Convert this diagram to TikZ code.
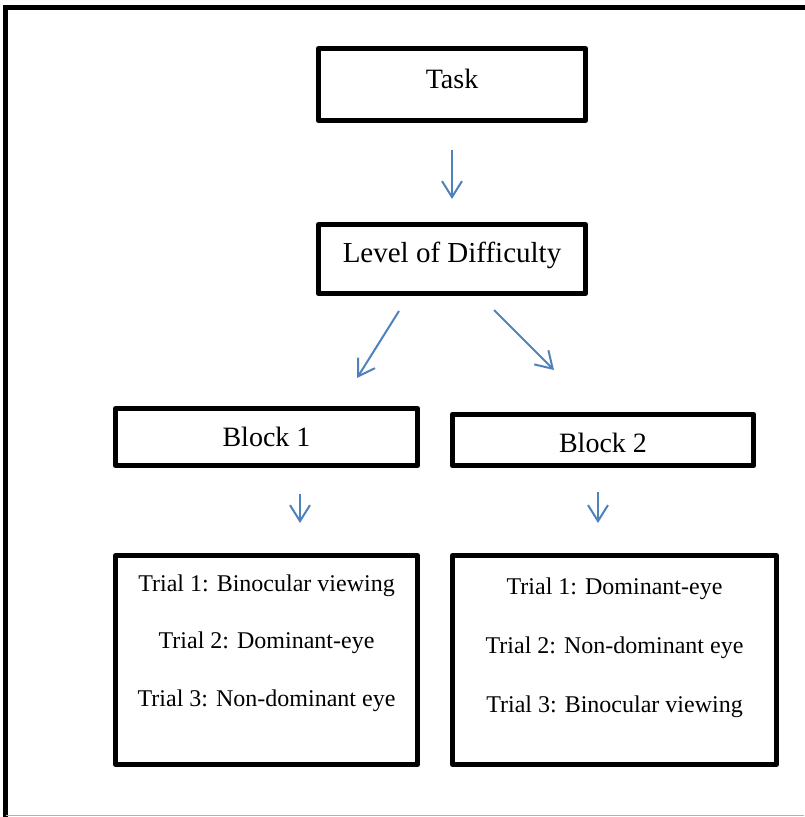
\documentclass[tikz,border=0pt]{standalone}
\usepackage{fontspec}
\setmainfont{Liberation Serif}
\usetikzlibrary{arrows.meta}
\definecolor{arrowblue}{RGB}{79,129,189}

\begin{document}
\begin{tikzpicture}[
    x=1pt, y=-1pt,
    >={Straight Barb[length=16pt,width=20pt]},
    box/.style={draw, line width=5pt, line join=round, inner sep=0pt},
    bigtext/.style={font=\fontsize{28}{33.6}\selectfont},
    trialtext/.style={font=\fontsize{24}{28.8}\selectfont},
    arr/.style={->, arrowblue, line width=2pt}
]
    % Frame
    \useasboundingbox (0,0) rectangle (804,817);
    \draw[line width=5pt] (5.5,817) -- (5.5,7) -- (812,7);
    \draw[gray!60, line width=1pt] (5.5,815.5) -- (804,815.5);

    % Task and level
    \node[box, bigtext, minimum width=267pt, minimum height=72pt, text height=20pt, text depth=12pt] (task) at (452,84.5) {Task};
    \node[box, font=\fontsize{29}{34.8}\selectfont\addfontfeature{Ligatures=CommonOff}, minimum width=267pt, minimum height=69pt, text height=20pt, text depth=14pt] (level) at (452,259) {Level of Difficulty};

    % Blocks
    \node[box, bigtext, minimum width=302pt, minimum height=57pt] (block1) at (266.5,437) {Block 1};
    \node[box, bigtext, minimum width=301pt, minimum height=51.5pt, text height=25pt] (block2) at (603,440) {Block 2};

    % Trials
    \node[box, trialtext, minimum width=302pt, minimum height=209pt, text depth=100pt] (trial1) at (266.5,660)
        {\begin{tabular}{@{}c@{}}Trial 1: Binocular viewing\\[28.7pt] Trial 2: Dominant-eye\\[28.7pt] Trial 3: Non-dominant eye\end{tabular}};
    \node[box, trialtext, minimum width=324pt, minimum height=209pt, text depth=92pt] (trial2) at (614.5,660)
        {\begin{tabular}{@{}c@{}}Trial 1: Dominant-eye\\[30pt] Trial 2: Non-dominant eye\\[30pt] Trial 3: Binocular viewing\end{tabular}};

    % Arrows
    \draw[arr] ([yshift=-27pt]task.south) -- ([yshift=23pt]level.north);
    \draw[arr] ([xshift=-53pt,yshift=-15pt]level.south) -- ([xshift=90.5pt,yshift=28pt]block1.north);
    \draw[arr] ([xshift=42pt,yshift=-14pt]level.south) -- ([xshift=-49pt,yshift=41.75pt]block2.north);
    \draw[arr] ([xshift=33.5pt,yshift=-26pt]block1.south) -- ([xshift=33.5pt,yshift=30pt]trial1.north);
    \draw[arr] ([xshift=-5pt,yshift=-23.75pt]block2.south) -- ([xshift=-16.5pt,yshift=30pt]trial2.north);
\end{tikzpicture}
\end{document}
